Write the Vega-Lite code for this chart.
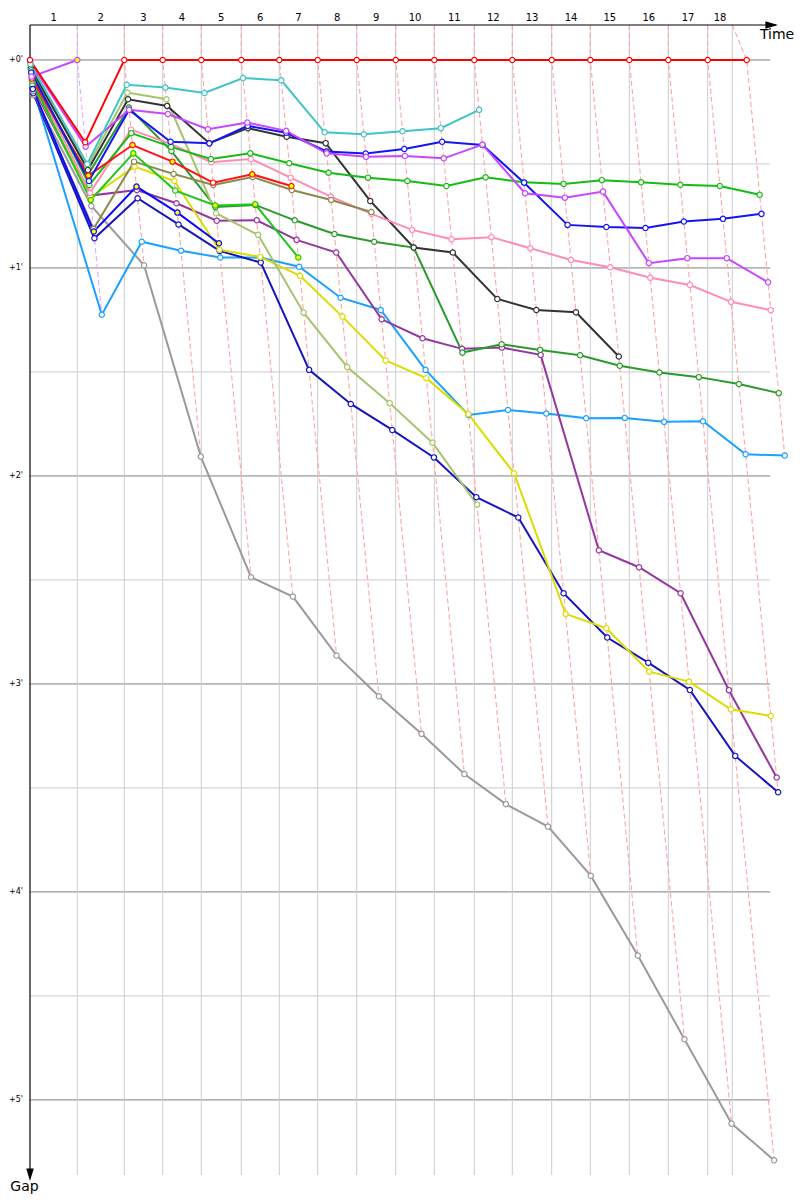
{
"$schema":"https://vega.github.io/schema/vega-lite/v6.json",
"width":740,"height":1150,"autosize":"none",
"padding":{"left":30,"top":25,"right":30,"bottom":25},
"background":"white",
"config":{"view":{"stroke":null}},
"datasets":{
"pts":[
{"d":"top","k":1,"t":2.365,"g":-0.168},{"d":"top","k":2,"t":4.715,"g":-0.168},{"d":"top","k":3,"t":6.635,"g":-0.168},{"d":"top","k":4,"t":8.565,"g":-0.168},{"d":"top","k":5,"t":10.565,"g":-0.168},{"d":"top","k":6,"t":12.465,"g":-0.168},{"d":"top","k":7,"t":14.385,"g":-0.168},{"d":"top","k":8,"t":16.335,"g":-0.168},{"d":"top","k":9,"t":18.285,"g":-0.168},{"d":"top","k":10,"t":20.215,"g":-0.168},{"d":"top","k":11,"t":22.215,"g":-0.168},{"d":"top","k":12,"t":24.115,"g":-0.168},{"d":"top","k":13,"t":26.085,"g":-0.168},{"d":"top","k":14,"t":28.015,"g":-0.168},{"d":"top","k":15,"t":29.965,"g":-0.168},{"d":"top","k":16,"t":31.915,"g":-0.168},{"d":"top","k":17,"t":33.885,"g":-0.168},{"d":"top","k":18,"t":35.115,"g":-0.168},
{"d":"S","k":0,"t":0.17,"g":0.17},{"d":"S","k":1,"t":3.067,"g":0.702},{"d":"S","k":2,"t":5.702,"g":0.987},{"d":"S","k":3,"t":8.542,"g":1.907},{"d":"S","k":4,"t":11.052,"g":2.487},{"d":"S","k":5,"t":13.145,"g":2.58},{"d":"S","k":6,"t":15.328,"g":2.863},{"d":"S","k":7,"t":17.444,"g":3.059},{"d":"S","k":8,"t":19.575,"g":3.24},{"d":"S","k":9,"t":21.718,"g":3.433},{"d":"S","k":10,"t":23.793,"g":3.578},{"d":"S","k":11,"t":25.901,"g":3.686},{"d":"S","k":12,"t":28.037,"g":3.922},{"d":"S","k":13,"t":30.391,"g":4.306},{"d":"S","k":14,"t":32.723,"g":4.708},{"d":"S","k":15,"t":35.079,"g":5.114},{"d":"S","k":16,"t":37.205,"g":5.29},
{"d":"R","k":0,"t":0.13,"g":0.13},{"d":"R","k":1,"t":3.59,"g":1.225},{"d":"R","k":2,"t":5.589,"g":0.874},{"d":"R","k":3,"t":7.552,"g":0.917},{"d":"R","k":4,"t":9.515,"g":0.95},{"d":"R","k":5,"t":11.515,"g":0.95},{"d":"R","k":6,"t":13.459,"g":0.994},{"d":"R","k":7,"t":15.528,"g":1.143},{"d":"R","k":8,"t":17.537,"g":1.202},{"d":"R","k":9,"t":19.775,"g":1.49},{"d":"R","k":10,"t":21.922,"g":1.707},{"d":"R","k":11,"t":23.898,"g":1.683},{"d":"R","k":12,"t":25.815,"g":1.7},{"d":"R","k":13,"t":27.808,"g":1.723},{"d":"R","k":14,"t":29.736,"g":1.721},{"d":"R","k":15,"t":31.705,"g":1.74},{"d":"R","k":16,"t":33.652,"g":1.737},{"d":"R","k":17,"t":35.781,"g":1.896},{"d":"R","k":18,"t":37.737,"g":1.902},
{"d":"Q","k":0,"t":0.16,"g":0.16},{"d":"Q","k":1,"t":3.222,"g":0.857},{"d":"Q","k":2,"t":5.38,"g":0.665},{"d":"Q","k":3,"t":7.426,"g":0.791},{"d":"Q","k":4,"t":9.483,"g":0.918},{"d":"Q","k":5,"t":11.539,"g":0.974},{"d":"Q","k":6,"t":13.955,"g":1.49},{"d":"Q","k":7,"t":16.039,"g":1.654},{"d":"Q","k":8,"t":18.114,"g":1.779},{"d":"Q","k":9,"t":20.196,"g":1.911},{"d":"Q","k":10,"t":22.317,"g":2.102},{"d":"Q","k":11,"t":24.415,"g":2.2},{"d":"Q","k":12,"t":26.679,"g":2.564},{"d":"Q","k":13,"t":28.862,"g":2.777},{"d":"Q","k":14,"t":30.913,"g":2.898},{"d":"Q","k":15,"t":32.994,"g":3.029},{"d":"Q","k":16,"t":35.261,"g":3.346},{"d":"Q","k":17,"t":37.406,"g":3.521},
{"d":"O","k":0,"t":0.13,"g":0.13},{"d":"O","k":1,"t":3.017,"g":0.652},{"d":"O","k":2,"t":5.34,"g":0.625},{"d":"O","k":3,"t":7.324,"g":0.689},{"d":"O","k":4,"t":9.338,"g":0.773},{"d":"O","k":5,"t":11.336,"g":0.771},{"d":"O","k":6,"t":13.33,"g":0.865},{"d":"O","k":7,"t":15.311,"g":0.926},{"d":"O","k":8,"t":17.582,"g":1.247},{"d":"O","k":9,"t":19.623,"g":1.338},{"d":"O","k":10,"t":21.604,"g":1.389},{"d":"O","k":11,"t":23.598,"g":1.383},{"d":"O","k":12,"t":25.533,"g":1.418},{"d":"O","k":13,"t":28.442,"g":2.357},{"d":"O","k":14,"t":30.454,"g":2.439},{"d":"O","k":15,"t":32.529,"g":2.564},{"d":"O","k":16,"t":34.945,"g":3.03},{"d":"O","k":17,"t":37.335,"g":3.45},
{"d":"M","k":0,"t":0.11,"g":0.11},{"d":"M","k":1,"t":3.025,"g":0.66},{"d":"M","k":2,"t":5.228,"g":0.513},{"d":"M","k":3,"t":7.217,"g":0.582},{"d":"M","k":4,"t":9.478,"g":0.913},{"d":"M","k":5,"t":11.512,"g":0.947},{"d":"M","k":6,"t":13.503,"g":1.038},{"d":"M","k":7,"t":15.619,"g":1.234},{"d":"M","k":8,"t":17.78,"g":1.445},{"d":"M","k":9,"t":19.815,"g":1.53},{"d":"M","k":10,"t":21.918,"g":1.703},{"d":"M","k":11,"t":24.202,"g":1.987},{"d":"M","k":12,"t":26.778,"g":2.663},{"d":"M","k":13,"t":28.817,"g":2.732},{"d":"M","k":14,"t":30.956,"g":2.941},{"d":"M","k":15,"t":32.954,"g":2.989},{"d":"M","k":16,"t":35.037,"g":3.122},{"d":"M","k":17,"t":37.039,"g":3.154},
{"d":"N","k":0,"t":0.12,"g":0.12},{"d":"N","k":1,"t":2.915,"g":0.55},{"d":"N","k":2,"t":4.944,"g":0.229},{"d":"N","k":3,"t":7.073,"g":0.438},{"d":"N","k":4,"t":9.272,"g":0.707},{"d":"N","k":5,"t":11.262,"g":0.697},{"d":"N","k":6,"t":13.236,"g":0.771},{"d":"N","k":7,"t":15.222,"g":0.837},{"d":"N","k":8,"t":17.209,"g":0.874},{"d":"N","k":9,"t":19.187,"g":0.902},{"d":"N","k":10,"t":21.622,"g":1.407},{"d":"N","k":11,"t":23.582,"g":1.367},{"d":"N","k":12,"t":25.509,"g":1.394},{"d":"N","k":13,"t":27.505,"g":1.42},{"d":"N","k":14,"t":29.485,"g":1.47},{"d":"N","k":15,"t":31.468,"g":1.503},{"d":"N","k":16,"t":33.44,"g":1.525},{"d":"N","k":17,"t":35.443,"g":1.558},{"d":"N","k":18,"t":37.437,"g":1.602},
{"d":"E","k":0,"t":0.03,"g":0.03},{"d":"E","k":1,"t":2.878,"g":0.513},{"d":"E","k":2,"t":4.872,"g":0.157},{"d":"E","k":3,"t":6.824,"g":0.189},{"d":"E","k":4,"t":9.302,"g":0.737},{"d":"E","k":5,"t":11.406,"g":0.841},{"d":"E","k":6,"t":13.68,"g":1.215},{"d":"E","k":7,"t":15.861,"g":1.476},{"d":"E","k":8,"t":17.985,"g":1.65},{"d":"E","k":9,"t":20.125,"g":1.84},{"d":"E","k":10,"t":22.353,"g":2.138},
{"d":"F","k":0,"t":0.04,"g":0.04},{"d":"F","k":1,"t":2.894,"g":0.529},{"d":"F","k":2,"t":4.904,"g":0.189},{"d":"F","k":3,"t":6.856,"g":0.221},{"d":"F","k":4,"t":8.965,"g":0.4},{"d":"F","k":5,"t":10.893,"g":0.328},{"d":"F","k":6,"t":12.834,"g":0.369},{"d":"F","k":7,"t":14.785,"g":0.4},{"d":"F","k":8,"t":17.013,"g":0.678},{"d":"F","k":9,"t":19.187,"g":0.902},{"d":"F","k":10,"t":21.141,"g":0.926},{"d":"F","k":11,"t":23.364,"g":1.149},{"d":"F","k":12,"t":25.317,"g":1.202},{"d":"F","k":13,"t":27.298,"g":1.213},{"d":"F","k":14,"t":29.441,"g":1.426},
{"d":"H","k":0,"t":0.07,"g":0.07},{"d":"H","k":1,"t":3.004,"g":0.639},{"d":"H","k":2,"t":5.05,"g":0.335},{"d":"H","k":3,"t":7.039,"g":0.404},{"d":"H","k":4,"t":9.057,"g":0.492},{"d":"H","k":5,"t":11.041,"g":0.476},{"d":"H","k":6,"t":13.031,"g":0.566},{"d":"H","k":7,"t":15.042,"g":0.657},{"d":"H","k":8,"t":17.075,"g":0.74},{"d":"H","k":9,"t":19.102,"g":0.817},{"d":"H","k":10,"t":21.077,"g":0.862},{"d":"H","k":11,"t":23.067,"g":0.852},{"d":"H","k":12,"t":25.02,"g":0.905},{"d":"H","k":13,"t":27.047,"g":0.962},{"d":"H","k":14,"t":29.012,"g":0.997},{"d":"H","k":15,"t":31.012,"g":1.047},{"d":"H","k":16,"t":32.997,"g":1.082},{"d":"H","k":17,"t":35.048,"g":1.163},{"d":"H","k":18,"t":37.038,"g":1.203},
{"d":"L","k":0,"t":0.15,"g":0.15},{"d":"L","k":1,"t":3.177,"g":0.812},{"d":"L","k":2,"t":5.204,"g":0.489},{"d":"L","k":3,"t":7.183,"g":0.548},{"d":"L","k":4,"t":9.166,"g":0.601},{"d":"L","k":5,"t":11.128,"g":0.563},{"d":"L","k":6,"t":13.09,"g":0.625},{"d":"L","k":7,"t":15.058,"g":0.673},{"d":"L","k":8,"t":17.066,"g":0.731},
{"d":"I","k":0,"t":0.05,"g":0.05},{"d":"I","k":1,"t":2.966,"g":0.601},{"d":"I","k":2,"t":5.067,"g":0.352},{"d":"I","k":3,"t":7.053,"g":0.418},{"d":"I","k":4,"t":9.041,"g":0.476},{"d":"I","k":5,"t":11.014,"g":0.449},{"d":"I","k":6,"t":12.962,"g":0.497},{"d":"I","k":7,"t":14.927,"g":0.542},{"d":"I","k":8,"t":16.901,"g":0.566},{"d":"I","k":9,"t":18.867,"g":0.582},{"d":"I","k":10,"t":20.821,"g":0.606},{"d":"I","k":11,"t":22.779,"g":0.564},{"d":"I","k":12,"t":24.703,"g":0.588},{"d":"I","k":13,"t":26.681,"g":0.596},{"d":"I","k":14,"t":28.593,"g":0.578},{"d":"I","k":15,"t":30.553,"g":0.588},{"d":"I","k":16,"t":32.515,"g":0.6},{"d":"I","k":17,"t":34.491,"g":0.606},{"d":"I","k":18,"t":36.483,"g":0.648},
{"d":"P","k":0,"t":0.14,"g":0.14},{"d":"P","k":1,"t":3.19,"g":0.825,"h":1},{"d":"P","k":2,"t":5.324,"g":0.609,"h":1},{"d":"P","k":3,"t":7.369,"g":0.734,"h":1},{"d":"P","k":4,"t":9.446,"g":0.881,"h":1},
{"d":"K","k":0,"t":0.1,"g":0.1},{"d":"K","k":1,"t":3.038,"g":0.673,"h":1},{"d":"K","k":2,"t":5.164,"g":0.449,"h":1},{"d":"K","k":3,"t":7.263,"g":0.628},{"d":"K","k":4,"t":9.265,"g":0.7,"h":1},{"d":"K","k":5,"t":11.259,"g":0.694,"h":1},{"d":"K","k":6,"t":13.415,"g":0.95,"h":1},
{"d":"J","k":0,"t":0.09,"g":0.09},{"d":"J","k":1,"t":2.921,"g":0.556,"h":1},{"d":"J","k":2,"t":5.124,"g":0.409,"h":1},{"d":"J","k":3,"t":7.124,"g":0.489,"h":1},{"d":"J","k":4,"t":9.155,"g":0.59},{"d":"J","k":5,"t":11.115,"g":0.55,"h":1},{"d":"J","k":6,"t":13.071,"g":0.606,"h":1},
{"d":"G","k":0,"t":0.06,"g":0.06},{"d":"G","k":1,"t":2.947,"g":0.582},{"d":"G","k":2,"t":4.955,"g":0.24},{"d":"G","k":3,"t":7.028,"g":0.393},{"d":"G","k":4,"t":8.966,"g":0.401},{"d":"G","k":5,"t":10.882,"g":0.317},{"d":"G","k":6,"t":12.815,"g":0.35},{"d":"G","k":7,"t":14.825,"g":0.44},{"d":"G","k":8,"t":16.785,"g":0.45},{"d":"G","k":9,"t":18.713,"g":0.428},{"d":"G","k":10,"t":20.608,"g":0.393},{"d":"G","k":11,"t":22.624,"g":0.409},{"d":"G","k":12,"t":24.705,"g":0.59},{"d":"G","k":13,"t":26.878,"g":0.793},{"d":"G","k":14,"t":28.818,"g":0.803},{"d":"G","k":15,"t":30.773,"g":0.808},{"d":"G","k":16,"t":32.692,"g":0.777},{"d":"G","k":17,"t":34.649,"g":0.764},{"d":"G","k":18,"t":36.575,"g":0.74},
{"d":"C","k":0,"t":0.01,"g":0.01},{"d":"C","k":1,"t":2.782,"g":0.417},{"d":"C","k":2,"t":4.955,"g":0.24},{"d":"C","k":3,"t":6.895,"g":0.26},{"d":"C","k":4,"t":8.898,"g":0.333},{"d":"C","k":5,"t":10.866,"g":0.301},{"d":"C","k":6,"t":12.806,"g":0.341},{"d":"C","k":7,"t":14.834,"g":0.449},{"d":"C","k":8,"t":16.801,"g":0.466},{"d":"C","k":9,"t":18.747,"g":0.462},{"d":"C","k":10,"t":20.688,"g":0.473},{"d":"C","k":11,"t":22.622,"g":0.407},{"d":"C","k":12,"t":24.756,"g":0.641},{"d":"C","k":13,"t":26.747,"g":0.662},{"d":"C","k":14,"t":28.648,"g":0.633},{"d":"C","k":15,"t":30.942,"g":0.977},{"d":"C","k":16,"t":32.868,"g":0.953},{"d":"C","k":17,"t":34.838,"g":0.953},{"d":"C","k":18,"t":36.904,"g":1.069},
{"d":"D","k":0,"t":0.02,"g":0.02},{"d":"D","k":1,"t":2.865,"g":0.5},{"d":"D","k":2,"t":4.834,"g":0.119},{"d":"D","k":3,"t":6.768,"g":0.133},{"d":"D","k":4,"t":8.724,"g":0.159},{"d":"D","k":5,"t":10.652,"g":0.087},{"d":"D","k":6,"t":12.563,"g":0.098},{"d":"D","k":7,"t":14.733,"g":0.348},{"d":"D","k":8,"t":16.692,"g":0.357},{"d":"D","k":9,"t":18.628,"g":0.343},{"d":"D","k":10,"t":20.543,"g":0.328},{"d":"D","k":11,"t":22.455,"g":0.24},
{"d":"V","k":0,"t":0.08,"g":0.08},{"d":"V","k":1,"t":2.365,"g":0,"h":1},
{"d":"A","k":0,"t":0,"g":0},{"d":"A","k":1,"t":2.761,"g":0.396},{"d":"A","k":2,"t":4.715,"g":0},{"d":"A","k":3,"t":6.635,"g":0},{"d":"A","k":4,"t":8.565,"g":0},{"d":"A","k":5,"t":10.565,"g":0},{"d":"A","k":6,"t":12.465,"g":0},{"d":"A","k":7,"t":14.385,"g":0},{"d":"A","k":8,"t":16.335,"g":0},{"d":"A","k":9,"t":18.285,"g":0},{"d":"A","k":10,"t":20.215,"g":0},{"d":"A","k":11,"t":22.215,"g":0},{"d":"A","k":12,"t":24.115,"g":0},{"d":"A","k":13,"t":26.085,"g":0},{"d":"A","k":14,"t":28.015,"g":0},{"d":"A","k":15,"t":29.965,"g":0},{"d":"A","k":16,"t":31.915,"g":0},{"d":"A","k":17,"t":33.885,"g":0},{"d":"A","k":18,"t":35.835,"g":0}
],
"hgrid":[{"g":0,"m":1},{"g":0.5,"m":0},{"g":1,"m":1},{"g":1.5,"m":0},{"g":2,"m":1},{"g":2.5,"m":0},{"g":3,"m":1},{"g":3.5,"m":0},{"g":4,"m":1},{"g":4.5,"m":0},{"g":5,"m":1}],
"vgrid":[{"t":2.365},{"t":4.715},{"t":6.635},{"t":8.565},{"t":10.565},{"t":12.465},{"t":14.385},{"t":16.335},{"t":18.285},{"t":20.215},{"t":22.215},{"t":24.115},{"t":26.085},{"t":28.015},{"t":29.965},{"t":31.915},{"t":33.885},{"t":35.115}],
"laps":[{"lab":"1","t":1.1825},{"lab":"2","t":3.54},{"lab":"3","t":5.675},{"lab":"4","t":7.6},{"lab":"5","t":9.565},{"lab":"6","t":11.515},{"lab":"7","t":13.425},{"lab":"8","t":15.36},{"lab":"9","t":17.31},{"lab":"10","t":19.25},{"lab":"11","t":21.215},{"lab":"12","t":23.165},{"lab":"13","t":25.1},{"lab":"14","t":27.05},{"lab":"15","t":28.99},{"lab":"16","t":30.94},{"lab":"17","t":32.9},{"lab":"18","t":34.5}],
"ylab":[{"g":0,"lab":"+0'"},{"g":1,"lab":"+1'"},{"g":2,"lab":"+2'"},{"g":3,"lab":"+3'"},{"g":4,"lab":"+4'"},{"g":5,"lab":"+5'"}]
},
"layer":[
{"data":{"name":"hgrid"},"mark":{"type":"rule","strokeWidth":1},
 "encoding":{"y":{"field":"g","type":"quantitative","scale":{"domain":[-0.168,5.361],"nice":false,"zero":false,"reverse":true},"axis":null},
 "x":{"datum":0,"type":"quantitative","scale":{"domain":[0,37],"nice":false,"zero":false},"axis":null},"x2":{"datum":37},
 "stroke":{"condition":{"test":"datum.m===1","value":"#808080"},"value":"#cccccc"}}},
{"data":{"name":"vgrid"},"mark":{"type":"rule","strokeWidth":1,"stroke":"#cccccc"},
 "encoding":{"x":{"field":"t","type":"quantitative","scale":{"domain":[0,37],"nice":false,"zero":false},"axis":null},
 "y":{"datum":-0.168,"type":"quantitative","scale":{"domain":[-0.168,5.361],"nice":false,"zero":false,"reverse":true},"axis":null},"y2":{"datum":5.361}}},
{"data":{"name":"pts"},"transform":[{"filter":"datum.k>0"}],"mark":{"type":"line","strokeWidth":1.1,"strokeDash":[5,3]},
 "encoding":{"x":{"field":"t","type":"quantitative","scale":{"domain":[0,37],"nice":false,"zero":false},"axis":null},
 "y":{"field":"g","type":"quantitative","scale":{"domain":[-0.168,5.361],"nice":false,"zero":false,"reverse":true},"axis":null},
 "detail":{"field":"k","type":"nominal"},"order":{"field":"g","type":"quantitative"},
 "stroke":{"condition":{"test":"datum.k===1","value":"#e2a8ff"},"value":"#ffa4a4"}}},
{"data":{"values":[{"t":0,"t2":37.3,"g":-0.168,"g2":-0.168},{"t":0,"t2":0,"g":-0.168,"g2":5.37}]},"mark":{"type":"rule","stroke":"#000000","strokeWidth":1.2},
 "encoding":{"x":{"field":"t","type":"quantitative","scale":{"domain":[0,37],"nice":false,"zero":false},"axis":null},"x2":{"field":"t2"},
 "y":{"field":"g","type":"quantitative","scale":{"domain":[-0.168,5.361],"nice":false,"zero":false,"reverse":true},"axis":null},"y2":{"field":"g2"}}},
{"data":{"values":[{"t":37.4,"g":-0.168,"s":"M-2,-0.6L0,0L-2,0.6Z"},{"t":0,"g":5.39,"s":"M-0.6,-2L0,0L0.6,-2Z"}]},"mark":{"type":"point","filled":true,"size":160,"color":"#000000","opacity":1},
 "encoding":{"x":{"field":"t","type":"quantitative","scale":{"domain":[0,37],"nice":false,"zero":false},"axis":null},
 "y":{"field":"g","type":"quantitative","scale":{"domain":[-0.168,5.361],"nice":false,"zero":false,"reverse":true},"axis":null},
 "shape":{"field":"s","type":"nominal","scale":null}}},
{"data":{"name":"pts"},"transform":[{"filter":"datum.d!=='top'"}],"mark":{"type":"line","strokeWidth":2},
 "encoding":{"x":{"field":"t","type":"quantitative","scale":{"domain":[0,37],"nice":false,"zero":false},"axis":null},
 "y":{"field":"g","type":"quantitative","scale":{"domain":[-0.168,5.361],"nice":false,"zero":false,"reverse":true},"axis":null},
 "color":{"field":"d","type":"nominal","legend":null,"scale":{"domain":["A","V","C","D","E","F","G","H","I","J","K","L","M","N","O","P","Q","R","S"],"range":["#ff0000","#c846ff","#c846ff","#40c4c8","#a6c46e","#333333","#1414f5","#ff8cb4","#14bc14","#ff1414","#1ec81e","#8a8a4e","#dcdc00","#2a9a2a","#94369e","#0a0aff","#1414c0","#1aa0ff","#9a9a9a"]}},
 "order":{"field":"k","type":"quantitative"}}},
{"data":{"name":"pts"},"transform":[{"filter":"datum.d!=='top'"}],"mark":{"type":"point","shape":"circle","filled":true,"size":28,"strokeWidth":1.2,"opacity":1},
 "encoding":{"x":{"field":"t","type":"quantitative","scale":{"domain":[0,37],"nice":false,"zero":false},"axis":null},
 "y":{"field":"g","type":"quantitative","scale":{"domain":[-0.168,5.361],"nice":false,"zero":false,"reverse":true},"axis":null},
 "stroke":{"field":"d","type":"nominal","legend":null,"scale":{"domain":["A","V","C","D","E","F","G","H","I","J","K","L","M","N","O","P","Q","R","S"],"range":["#ff0000","#c846ff","#c846ff","#40c4c8","#a6c46e","#333333","#1414f5","#ff8cb4","#14bc14","#ff1414","#1ec81e","#8a8a4e","#dcdc00","#2a9a2a","#94369e","#0a0aff","#1414c0","#1aa0ff","#9a9a9a"]}},
 "fill":{"condition":{"test":"datum.h===1","value":"#ffff00"},"value":"#ffffff"}}},
{"data":{"name":"laps"},"mark":{"type":"text","font":"DejaVu Sans","fontSize":10,"color":"#000000","baseline":"middle","align":"center"},
 "encoding":{"x":{"field":"t","type":"quantitative","scale":{"domain":[0,37],"nice":false,"zero":false},"axis":null},
 "y":{"datum":-0.204,"type":"quantitative","scale":{"domain":[-0.168,5.361],"nice":false,"zero":false,"reverse":true},"axis":null},
 "text":{"field":"lab"}}},
{"data":{"name":"ylab"},"mark":{"type":"text","font":"DejaVu Sans","fontSize":8,"color":"#000000","baseline":"middle","align":"right","dx":-7},
 "encoding":{"x":{"datum":0,"type":"quantitative","scale":{"domain":[0,37],"nice":false,"zero":false},"axis":null},
 "y":{"field":"g","type":"quantitative","scale":{"domain":[-0.168,5.361],"nice":false,"zero":false,"reverse":true},"axis":null},
 "text":{"field":"lab"}}},
{"data":{"values":[{"t":37.35,"g":-0.12,"lab":"Time","a":"right"},{"t":-0.275,"g":5.418,"lab":"Gap","a":"center"}]},"mark":{"type":"text","font":"DejaVu Sans","fontSize":14,"color":"#000000","baseline":"middle"},
 "encoding":{"x":{"field":"t","type":"quantitative","scale":{"domain":[0,37],"nice":false,"zero":false},"axis":null},
 "y":{"field":"g","type":"quantitative","scale":{"domain":[-0.168,5.361],"nice":false,"zero":false,"reverse":true},"axis":null},
 "text":{"field":"lab"},"align":{"field":"a","type":"nominal","scale":null}}}
]
}
